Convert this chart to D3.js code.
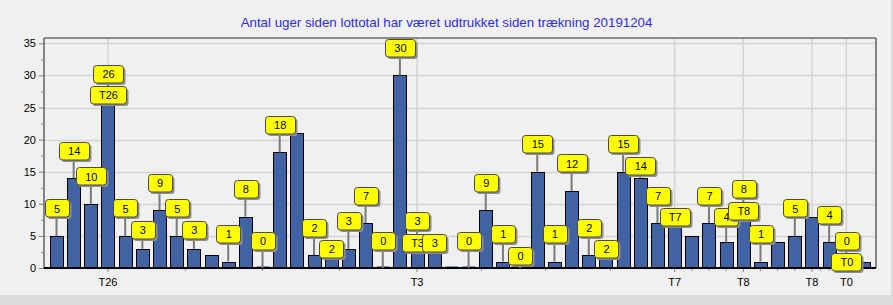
<!DOCTYPE html>
<html><head><meta charset="utf-8">
<script src="https://cdn.jsdelivr.net/npm/d3@7"></script>
<style>html,body{margin:0;padding:0;background:#f0f0f0;overflow:hidden;} svg{display:block;font-family:"Liberation Sans",Arial,sans-serif;}</style>
</head><body>
<svg id="c" width="893" height="305"></svg>
<script>
// ---- data ----
const title = "Antal uger siden lottotal har været udtrukket siden trækning 20191204";
const categories = [1,2,3,4,5,6,7,8,9,10,11,12,13,14,15,16,17,18,19,20,21,22,23,24,25,26,27,28,29,30,31,32,33,34,35,36,37,38,39,40,41,42,43,44,45,46,47,48];
const values = [5,14,10,26,5,3,9,5,3,2,1,8,0,18,21,2,2,3,7,0,30,3,3,0,0,9,1,0,15,1,12,2,2,15,14,7,7,5,7,4,8,1,4,5,8,4,0,1];
const tagCategories = [4,22,37,41,45,47];
const tagLabels = ["T26","T3","T7","T8","T8","T0"];
const yTicks = [0,5,10,15,20,25,30,35];
const yMinorTicks = [2.5,7.5,12.5,17.5,22.5,27.5,32.5];

// ---- layout ----
const W=893,H=305;
const L=44,R=876,T=38,B=268;
const svg=d3.select("#c");
svg.append("rect").attr("width",W).attr("height",H).attr("fill","#f0f0f0");
svg.append("rect").attr("x",0).attr("y",295).attr("width",W).attr("height",10).attr("fill","#dcdcdc");
svg.append("rect").attr("x",891).attr("y",0).attr("width",2).attr("height",H).attr("fill","#dcdcdc");

const x=d3.scaleBand().domain(categories).range([L,R]).paddingInner(0.24).paddingOuter(0.348);
const y=d3.scaleLinear().domain([0,35.83]).range([B,T]);
const bw=x.bandwidth();
const cx=c=>x(c)+bw/2;

// title
svg.append("text").attr("x",446.5).attr("y",27).attr("text-anchor","middle")
  .attr("font-size","13.3px").attr("fill","#2b2bff").text(title);

// grid
const g=svg.append("g");
g.selectAll("line.h").data(yTicks).join("line")
  .attr("x1",L).attr("x2",R).attr("y1",d=>Math.round(y(d))+0.5).attr("y2",d=>Math.round(y(d))+0.5)
  .attr("stroke","#d4d4d4").attr("stroke-width",1.6);
g.selectAll("line.v").data(tagCategories).join("line")
  .attr("y1",T).attr("y2",B).attr("x1",d=>cx(d)).attr("x2",d=>cx(d))
  .attr("stroke","#d4d4d4").attr("stroke-width",1.6);

// y axis
const ya=svg.append("g").attr("transform",`translate(${L},0)`)
  .call(d3.axisLeft(y).tickValues(yTicks).tickSize(5).tickPadding(3));
ya.select(".domain").remove();
ya.selectAll("line").attr("stroke","#808080");
ya.selectAll("text").attr("font-size","11px").attr("fill","#000").attr("font-family","Liberation Sans, Arial, sans-serif");
const yam=svg.append("g").attr("transform",`translate(${L},0)`)
  .call(d3.axisLeft(y).tickValues(yMinorTicks).tickSize(3).tickFormat(""));
yam.select(".domain").remove();
yam.selectAll("line").attr("stroke","#909090");

// x axis
const xa=svg.append("g").attr("transform",`translate(0,${B})`)
  .call(d3.axisBottom(x).tickValues(tagCategories).tickFormat((d,i)=>tagLabels[i]).tickSize(4).tickPadding(6));
xa.select(".domain").remove();
xa.selectAll("line").attr("stroke","#808080");
xa.selectAll("text").attr("font-size","11px").attr("fill","#000").attr("font-family","Liberation Sans, Arial, sans-serif");
// minor x ticks: 3 between consecutive labelled ticks
const minorX=[];
for(let i=0;i<tagCategories.length-1;i++){
  const a=cx(tagCategories[i]), b=cx(tagCategories[i+1]);
  for(let k=1;k<=3;k++) minorX.push(a+(b-a)*k/4);
}
svg.append("g").selectAll("line").data(minorX).join("line")
  .attr("x1",d=>d).attr("x2",d=>d).attr("y1",B).attr("y2",B+3).attr("stroke","#909090");

// bars
svg.append("g").selectAll("rect").data(categories).join("rect")
  .attr("x",c=>Math.round(x(c))+0.5)
  .attr("y",(c,i)=>values[i]>0?Math.round(y(values[i]))+0.5:y(0)-2)
  .attr("width",Math.round(bw))
  .attr("height",(c,i)=>values[i]>0?y(0)-Math.round(y(values[i]))-0.5:1.5)
  .attr("fill",(c,i)=>values[i]>0?"#4163a3":"#7e99cc")
  .attr("stroke",(c,i)=>values[i]>0?"#000":"none").attr("stroke-width",1);

// frame
svg.append("line").attr("x1",L).attr("x2",R).attr("y1",T).attr("y2",T).attr("stroke","#6b6b6b").attr("stroke-width",1.6);
svg.append("line").attr("x1",R).attr("x2",R).attr("y1",T).attr("y2",B).attr("stroke","#6b6b6b").attr("stroke-width",1.6);
svg.append("line").attr("x1",L).attr("x2",L).attr("y1",T).attr("y2",B).attr("stroke","#6b6b6b").attr("stroke-width",1.6);
svg.append("line").attr("x1",L).attr("x2",R).attr("y1",B).attr("y2",B).attr("stroke","#000").attr("stroke-width",2);

// marks (labels) with overlap avoidance
const ARROW=19, BH=17.5, GAP=4, MARGIN=2, TOL=3.5, PADX=8.7;
const meas=svg.append("text").attr("font-size","11px").attr("visibility","hidden");
const tw=s=>{meas.text(s);return meas.node().getComputedTextLength();};
let prev=null; const placed=[];
categories.forEach((c,i)=>{
  const v=values[i], top=y(v);
  const w=tw(String(v))+2*PADX;
  const b={x0:cx(c)-w/2,x1:cx(c)+w/2,y0:top-ARROW-BH,y1:top-ARROW,text:String(v),c,barTop:top};
  if(prev && b.x0<prev.x1 && b.x1>prev.x0 && b.y0<prev.y1+MARGIN && b.y1>prev.y0-MARGIN){
    b.y0=prev.y1+GAP; b.y1=b.y0+BH;
    if(b.y1>top+TOL) return;
  }
  placed.push(b); prev=b;
  const ti=tagCategories.indexOf(c);
  if(ti>=0){
    const w2=tw(tagLabels[ti])+2*PADX, d0=top-ARROW+GAP;
    const t={x0:cx(c)-w2/2,x1:cx(c)+w2/2,y0:d0,y1:d0+BH,text:tagLabels[ti],tag:true,c,barTop:top};
    // a value mark lying completely under its tag mark is hidden by it
    if(t.x0<=b.x0 && t.x1>=b.x1 && Math.abs(t.y0-b.y0)<2) b.hidden=true;
    placed.push(t);
  }
});
meas.remove();
const shown=placed.filter(p=>!p.hidden);
const lg=svg.append("g");
lg.selectAll("line").data(shown.filter(p=>!p.tag && p.y1<p.barTop)).join("line")
  .attr("x1",p=>cx(p.c)).attr("x2",p=>cx(p.c)).attr("y1",p=>p.y1).attr("y2",p=>p.barTop)
  .attr("stroke","#7a7a7a").attr("stroke-width",2);
const bg=lg.selectAll("g.m").data(shown).join("g");
bg.append("rect").attr("x",p=>Math.round(p.x0)+2.5).attr("y",p=>Math.round(p.y0)+2.5)
  .attr("width",p=>Math.round(p.x1-p.x0)).attr("height",BH).attr("rx",3).attr("fill","#8e8e8e");
bg.append("rect").attr("x",p=>Math.round(p.x0)+0.5).attr("y",p=>Math.round(p.y0)+0.5)
  .attr("width",p=>Math.round(p.x1-p.x0)).attr("height",BH).attr("rx",3)
  .attr("fill","#ffff00").attr("stroke","#4a4a4a").attr("stroke-width",1);
bg.append("text").attr("x",p=>cx(p.c)+0.5).attr("y",p=>(p.y0+p.y1)/2+4.5)
  .attr("text-anchor","middle").attr("font-size","11px").attr("fill","#000").text(p=>p.text);
</script>
</body></html>
